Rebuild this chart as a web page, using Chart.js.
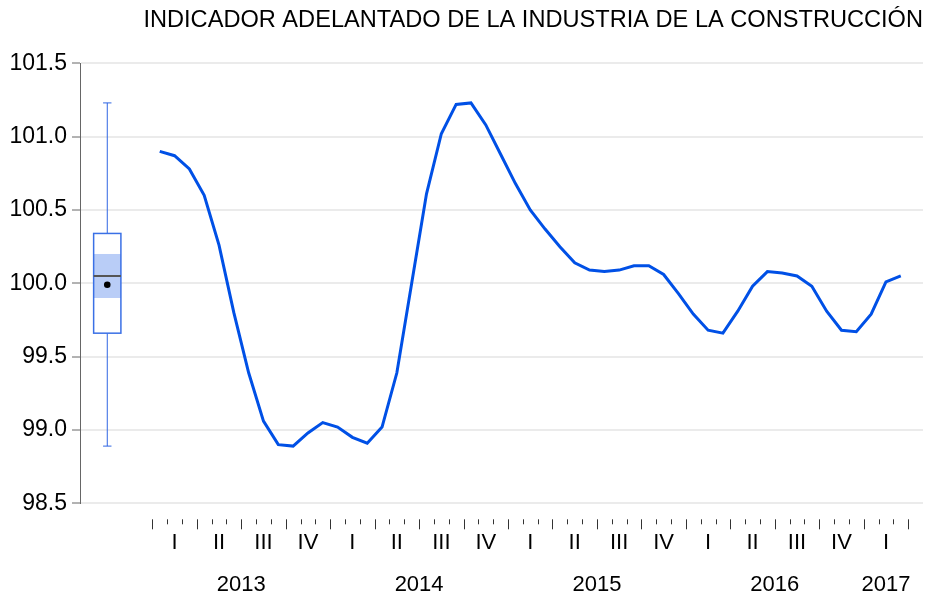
<!DOCTYPE html>
<html>
<head>
<meta charset="utf-8">
<script src="https://cdn.jsdelivr.net/npm/chart.js@4"></script>
<style>
  body { margin: 0; background: #fff; }
</style>
</head>
<body>
<canvas id="chart" width="926" height="596"></canvas>
<script>
const title = "INDICADOR ADELANTADO DE LA INDUSTRIA DE LA CONSTRUCCIÓN";

// monthly series, 2013M01 - 2017M03
const values = [
  100.90, 100.87, 100.78, 100.60, 100.26, 99.80, 99.39, 99.06, 98.90, 98.89, 98.98, 99.05,
  99.02, 98.95, 98.91, 99.02, 99.39, 100.00, 100.61, 101.02, 101.22, 101.23, 101.08, 100.88,
  100.68, 100.50, 100.37, 100.25, 100.14, 100.09, 100.08, 100.09, 100.12, 100.12, 100.06, 99.93,
  99.79, 99.68, 99.66, 99.81, 99.98, 100.08, 100.07, 100.05, 99.98, 99.81, 99.68, 99.67,
  99.79, 100.01, 100.05
];
const years = ["2013", "2014", "2015", "2016", "2017"];
const quarters = ["I", "II", "III", "IV"];
const yTicks = [98.5, 99.0, 99.5, 100.0, 100.5, 101.0, 101.5];

// box plot
const boxWhiskers = [98.89, 101.23];
const boxQuartiles = [99.66, 100.34];
const boxBand = [99.90, 100.20];
const boxMedian = 100.05;
const boxMean = 99.99;

const FONT = '"Liberation Sans", Arial, sans-serif';

const boxPlot = {
  id: "boxPlot",
  beforeDatasetsDraw(chart) {
    const ctx = chart.ctx;
    const x = chart.scales.x, y = chart.scales.y;
    const cx = x.getPixelForValue(-3.04);
    const half = x.getPixelForValue(-3.04 + 0.92) - cx;
    const cap = 4.2;
    ctx.save();
    // whiskers
    ctx.strokeStyle = "#2f66e3";
    ctx.lineWidth = 1;
    ctx.beginPath();
    ctx.moveTo(cx, y.getPixelForValue(boxQuartiles[1]));
    ctx.lineTo(cx, y.getPixelForValue(boxWhiskers[1]));
    ctx.moveTo(cx - cap, y.getPixelForValue(boxWhiskers[1]));
    ctx.lineTo(cx + cap, y.getPixelForValue(boxWhiskers[1]));
    ctx.moveTo(cx, y.getPixelForValue(boxQuartiles[0]));
    ctx.lineTo(cx, y.getPixelForValue(boxWhiskers[0]));
    ctx.moveTo(cx - cap, y.getPixelForValue(boxWhiskers[0]));
    ctx.lineTo(cx + cap, y.getPixelForValue(boxWhiskers[0]));
    ctx.stroke();
    // box
    const top = y.getPixelForValue(boxQuartiles[1]);
    const bot = y.getPixelForValue(boxQuartiles[0]);
    ctx.fillStyle = "#fff";
    ctx.fillRect(cx - half, top, half * 2, bot - top);
    const bTop = y.getPixelForValue(boxBand[1]);
    const bBot = y.getPixelForValue(boxBand[0]);
    ctx.fillStyle = "#b9cdf7";
    ctx.fillRect(cx - half, bTop, half * 2, bBot - bTop);
    ctx.strokeStyle = "#3a70e6";
    ctx.lineWidth = 1.5;
    ctx.strokeRect(cx - half, top, half * 2, bot - top);
    // median
    const m = y.getPixelForValue(boxMedian);
    ctx.strokeStyle = "#555";
    ctx.lineWidth = 2;
    ctx.beginPath();
    ctx.moveTo(cx - half, m);
    ctx.lineTo(cx + half, m);
    ctx.stroke();
    // mean
    ctx.fillStyle = "#000";
    ctx.beginPath();
    ctx.arc(cx, y.getPixelForValue(boxMean), 3.3, 0, Math.PI * 2);
    ctx.fill();
    ctx.restore();
  }
};

// month ticks, quarter and year labels under the plot
const dateAxis = {
  id: "dateAxis",
  afterDraw(chart) {
    const ctx = chart.ctx;
    const x = chart.scales.x;
    const base = chart.chartArea.bottom;
    ctx.save();
    ctx.strokeStyle = "#333";
    ctx.lineWidth = 1;
    for (let k = 0; k <= values.length; k++) {
      const px = Math.round(x.getPixelForValue(k)) + 0.5;
      const len = k % 3 === 0 ? 10 : 5;
      ctx.beginPath();
      ctx.moveTo(px, base + 16);
      ctx.lineTo(px, base + 16 + len);
      ctx.stroke();
    }
    ctx.fillStyle = "#000";
    ctx.font = "22px " + FONT;
    ctx.textAlign = "center";
    ctx.textBaseline = "middle";
    for (let q = 0; q * 3 < values.length; q++) {
      ctx.fillText(quarters[q % 4], x.getPixelForValue(q * 3 + 1.5), base + 40);
    }
    years.forEach((yr, j) => {
      const first = j * 12;
      const last = Math.min(first + 12, values.length);
      ctx.fillText(yr, x.getPixelForValue((first + last) / 2), base + 82);
    });
    ctx.restore();
  }
};

new Chart(document.getElementById("chart"), {
  type: "line",
  data: {
    datasets: [{
      data: values.map((v, i) => ({ x: i + 0.5, y: v })),
      borderColor: "#0050e6",
      borderWidth: 3,
      pointRadius: 0,
      tension: 0,
      fill: false
    }]
  },
  options: {
    responsive: false,
    animation: false,
    devicePixelRatio: 1,
    layout: { padding: { left: 0, right: 3, top: 0, bottom: 92.7 } },
    plugins: {
      legend: { display: false },
      tooltip: { enabled: false },
      title: {
        display: true,
        text: title,
        align: "end",
        color: "#000",
        font: { size: 23.6, weight: "normal", family: FONT },
        padding: { top: 6, bottom: 29 }
      }
    },
    scales: {
      x: { type: "linear", display: false, min: -4.88, max: 52 },
      y: {
        min: 98.5,
        max: 101.5,
        afterBuildTicks: s => { s.ticks = yTicks.map(v => ({ value: v })); },
        afterFit: s => { s.width = 80; },
        ticks: {
          color: "#000",
          padding: 5,
          font: { size: 23, family: FONT },
          callback: v => v.toFixed(1)
        },
        grid: { color: "#ebebeb", lineWidth: 2, tickColor: "#666", tickWidth: 1, tickLength: 8 },
        border: { color: "#666", width: 1 }
      }
    }
  },
  plugins: [boxPlot, dateAxis]
});
</script>
</body>
</html>
